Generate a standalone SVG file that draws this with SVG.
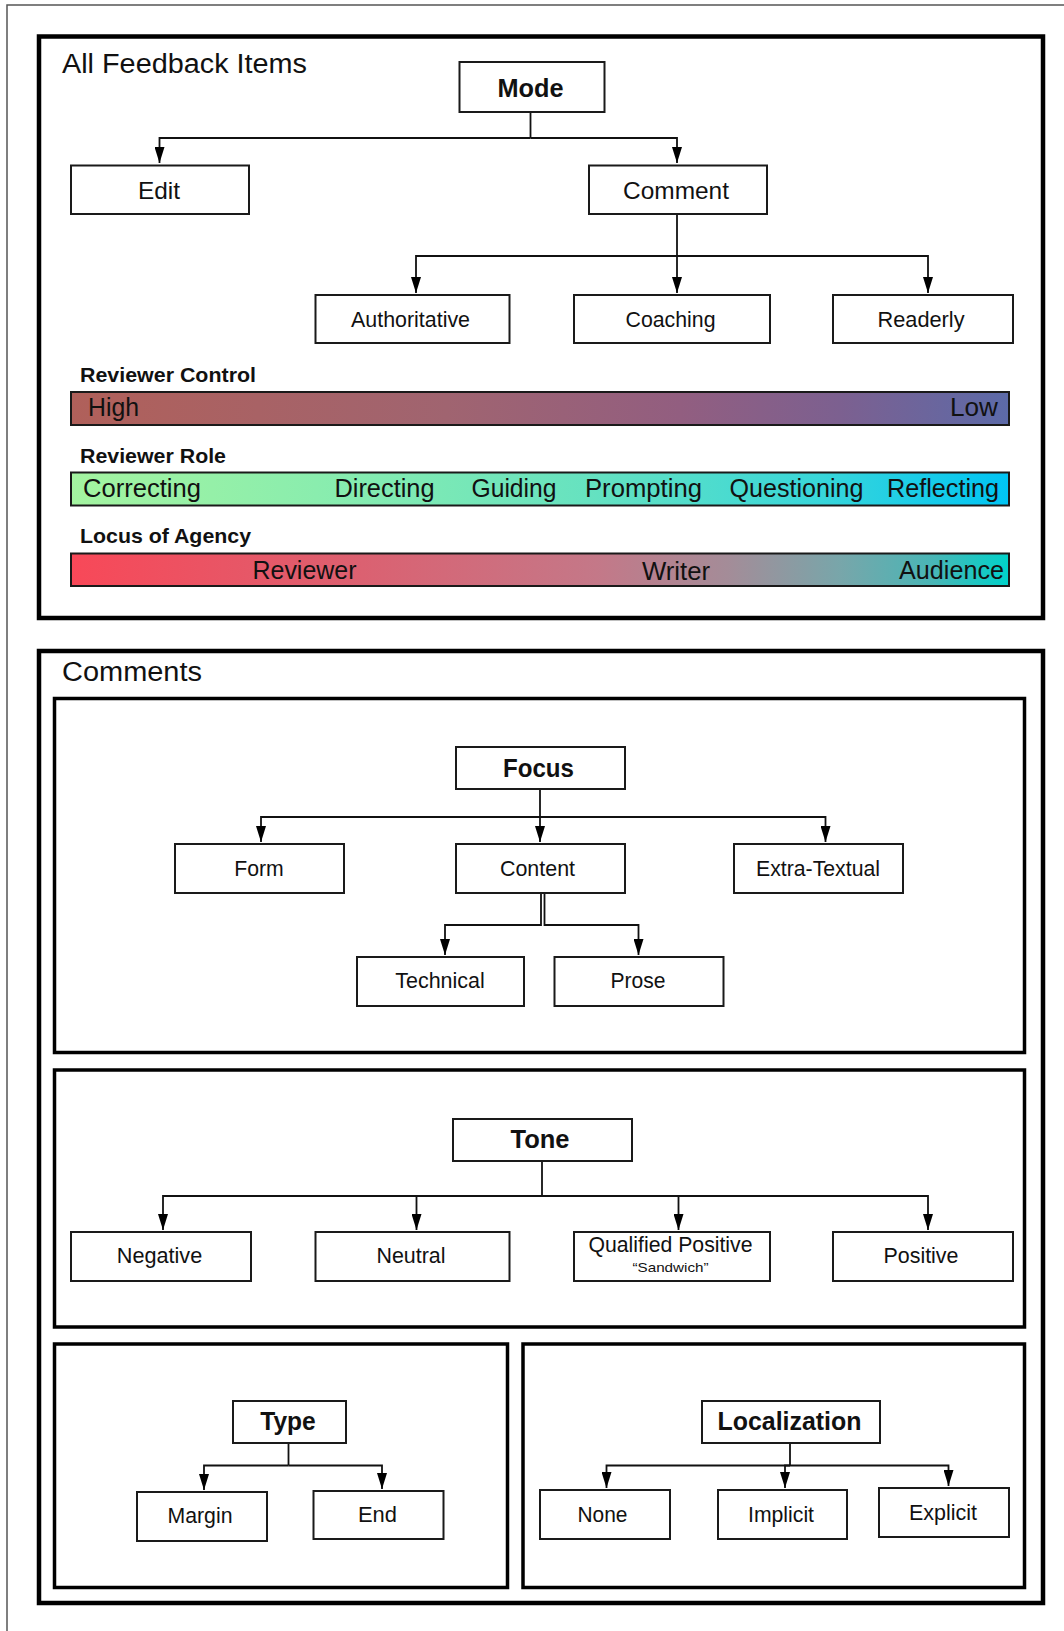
<svg xmlns="http://www.w3.org/2000/svg" width="1064" height="1631" viewBox="0 0 1064 1631">
  <style>
    text { font-family: "Liberation Sans", Arial, Helvetica, sans-serif; fill: #111; }
    .title { font-size: 27px; }
    .root { font-size: 25px; font-weight: bold; text-anchor: middle; }
    .mid { font-size: 24.5px; text-anchor: middle; }
    .leaf { font-size: 22px; text-anchor: middle; }
    .small { font-size: 13px; text-anchor: middle; }
    .hdr { font-size: 21px; font-weight: bold; }
    .bar-label { font-size: 25px; }
    .node rect { fill: #fff; stroke: #1a1a1a; stroke-width: 2; }
    .frame { fill: none; stroke: #000; stroke-width: 4.5; }
    .panel { fill: none; stroke: #000; stroke-width: 3.5; }
    .bar { stroke: #1a1a1a; stroke-width: 2; }
    #connectors path { fill: none; stroke: #111; stroke-width: 1.8; }
    #connectors .arrow { marker-end: url(#arrowhead); }
  </style>
  <defs>
    <marker id="arrowhead" markerWidth="16" markerHeight="10" refX="16" refY="5" orient="auto" markerUnits="userSpaceOnUse">
      <path d="M0,0 L16,5 L0,10 z" fill="#000"/>
    </marker>
    <linearGradient id="gradControl" x1="0" y1="0" x2="1" y2="0">
      <stop offset="0" stop-color="#B0605A"/>
      <stop offset="0.4" stop-color="#A06470"/>
      <stop offset="0.65" stop-color="#925E80"/>
      <stop offset="0.82" stop-color="#7C6090"/>
      <stop offset="1" stop-color="#5C6AA8"/>
    </linearGradient>
    <linearGradient id="gradRole" x1="0" y1="0" x2="1" y2="0">
      <stop offset="0" stop-color="#A4F4A0"/>
      <stop offset="0.3" stop-color="#86ECB0"/>
      <stop offset="0.55" stop-color="#66E2C0"/>
      <stop offset="0.8" stop-color="#38D6DA"/>
      <stop offset="1" stop-color="#00C4F4"/>
    </linearGradient>
    <linearGradient id="gradAgency" x1="0" y1="0" x2="1" y2="0">
      <stop offset="0" stop-color="#F84858"/>
      <stop offset="0.3" stop-color="#DC6070"/>
      <stop offset="0.56" stop-color="#C47888"/>
      <stop offset="0.7" stop-color="#A48C98"/>
      <stop offset="0.82" stop-color="#78A6AA"/>
      <stop offset="0.92" stop-color="#48B6B6"/>
      <stop offset="1" stop-color="#00D2CA"/>
    </linearGradient>
  </defs>

  <rect width="1064" height="1631" fill="#fff"/>
  <!-- page border -->
  <path d="M7,1631 V5 H1064" fill="none" stroke="#555" stroke-width="1.5"/>

  <!-- section: all feedback items -->
  <g id="section-all">
    <rect class="frame" x="39" y="36.5" width="1004" height="581.5"/>
    <text class="title" x="62" y="73" textLength="245" lengthAdjust="spacingAndGlyphs">All Feedback Items</text>
  </g>

  <!-- section: comments -->
  <g id="section-comments">
    <rect class="frame" x="39" y="651" width="1004" height="952"/>
    <text class="title" x="62" y="681" textLength="140" lengthAdjust="spacingAndGlyphs">Comments</text>
  </g>
  <g id="panel-focus"><rect class="panel" x="54.5" y="698.5" width="970" height="354"/></g>
  <g id="panel-tone"><rect class="panel" x="54.5" y="1070" width="970" height="257"/></g>
  <g id="panel-type"><rect class="panel" x="54.5" y="1344" width="453" height="243.5"/></g>
  <g id="panel-localization"><rect class="panel" x="523" y="1344" width="501.5" height="243.5"/></g>

  <!-- scales -->
  <g id="scale-control">
    <text class="hdr" x="80" y="382" textLength="176" lengthAdjust="spacingAndGlyphs">Reviewer Control</text>
    <rect class="bar" x="71" y="392" width="938" height="33" fill="url(#gradControl)"/>
    <text class="bar-label" x="88" y="416" textLength="51" lengthAdjust="spacingAndGlyphs">High</text>
    <text class="bar-label" x="950" y="416" textLength="48" lengthAdjust="spacingAndGlyphs">Low</text>
  </g>
  <g id="scale-role">
    <text class="hdr" x="80" y="463" textLength="146" lengthAdjust="spacingAndGlyphs">Reviewer Role</text>
    <rect class="bar" x="71" y="472.5" width="938" height="33" fill="url(#gradRole)"/>
    <text class="bar-label" x="83" y="497" textLength="118" lengthAdjust="spacingAndGlyphs">Correcting</text>
    <text class="bar-label" x="334.5" y="497" textLength="100" lengthAdjust="spacingAndGlyphs">Directing</text>
    <text class="bar-label" x="471.5" y="497" textLength="85" lengthAdjust="spacingAndGlyphs">Guiding</text>
    <text class="bar-label" x="585" y="497" textLength="117" lengthAdjust="spacingAndGlyphs">Prompting</text>
    <text class="bar-label" x="729.5" y="497" textLength="134" lengthAdjust="spacingAndGlyphs">Questioning</text>
    <text class="bar-label" x="887" y="497" textLength="112" lengthAdjust="spacingAndGlyphs">Reflecting</text>
  </g>
  <g id="scale-agency">
    <text class="hdr" x="80" y="543" textLength="171" lengthAdjust="spacingAndGlyphs">Locus of Agency</text>
    <rect class="bar" x="71" y="553.5" width="938" height="32.5" fill="url(#gradAgency)"/>
    <text class="bar-label" x="252.5" y="579" textLength="104" lengthAdjust="spacingAndGlyphs">Reviewer</text>
    <text class="bar-label" x="642" y="579.5" textLength="68" lengthAdjust="spacingAndGlyphs">Writer</text>
    <text class="bar-label" x="899" y="578.5" textLength="105" lengthAdjust="spacingAndGlyphs">Audience</text>
  </g>

  <!-- connectors -->
  <g id="connectors">
    <path d="M530.5,112 V138"/>
    <path class="arrow" d="M530.5,138 H159.5 V163"/>
    <path class="arrow" d="M530.5,138 H677 V163"/>

    <path d="M677,214 V256"/>
    <path class="arrow" d="M677,256 H416 V293"/>
    <path class="arrow" d="M677,256 V293"/>
    <path class="arrow" d="M677,256 H928 V293"/>

    <path d="M540,789 V817"/>
    <path class="arrow" d="M540,817 H261 V842"/>
    <path class="arrow" d="M540,817 V842"/>
    <path class="arrow" d="M540,817 H825.5 V842"/>

    <path class="arrow" d="M541,893 V925 H445 V955"/>
    <path class="arrow" d="M544.5,893 V925 H638.5 V955"/>

    <path d="M542,1161 V1196"/>
    <path class="arrow" d="M542,1196 H163 V1230"/>
    <path class="arrow" d="M542,1196 H416.5 V1230"/>
    <path class="arrow" d="M542,1196 H678.5 V1230"/>
    <path class="arrow" d="M542,1196 H928 V1230"/>

    <path d="M288.5,1443 V1465.5"/>
    <path class="arrow" d="M288.5,1465.5 H204 V1490"/>
    <path class="arrow" d="M288.5,1465.5 H382 V1489"/>

    <path d="M790,1443 V1465.5"/>
    <path class="arrow" d="M790,1465.5 H606.5 V1488"/>
    <path class="arrow" d="M790,1465.5 H785 V1488"/>
    <path class="arrow" d="M790,1465.5 H948.5 V1486"/>
  </g>

  <!-- mode tree -->
  <g id="node-mode" class="node">
    <rect x="459.5" y="62" width="145" height="50"/>
    <text class="root" x="530.5" y="97" textLength="66" lengthAdjust="spacingAndGlyphs">Mode</text>
  </g>
  <g id="node-edit" class="node">
    <rect x="71" y="165.5" width="178" height="48.5"/>
    <text class="mid" x="159" y="199" textLength="42" lengthAdjust="spacingAndGlyphs">Edit</text>
  </g>
  <g id="node-comment" class="node">
    <rect x="589" y="165.5" width="178" height="48.5"/>
    <text class="mid" x="676" y="199" textLength="106" lengthAdjust="spacingAndGlyphs">Comment</text>
  </g>
  <g id="node-authoritative" class="node">
    <rect x="315.5" y="295" width="194" height="48"/>
    <text class="leaf" x="410.5" y="326.5" textLength="119" lengthAdjust="spacingAndGlyphs">Authoritative</text>
  </g>
  <g id="node-coaching" class="node">
    <rect x="574" y="295" width="196" height="48"/>
    <text class="leaf" x="670.5" y="326.5" textLength="90" lengthAdjust="spacingAndGlyphs">Coaching</text>
  </g>
  <g id="node-readerly" class="node">
    <rect x="833" y="295" width="180" height="48"/>
    <text class="leaf" x="921" y="326.5" textLength="87" lengthAdjust="spacingAndGlyphs">Readerly</text>
  </g>

  <!-- focus tree -->
  <g id="node-focus" class="node">
    <rect x="456" y="747" width="169" height="42"/>
    <text class="root" x="538.5" y="777" textLength="71" lengthAdjust="spacingAndGlyphs">Focus</text>
  </g>
  <g id="node-form" class="node">
    <rect x="175" y="844" width="169" height="49"/>
    <text class="leaf" x="259" y="876" textLength="49.5" lengthAdjust="spacingAndGlyphs">Form</text>
  </g>
  <g id="node-content" class="node">
    <rect x="456" y="844" width="169" height="49"/>
    <text class="leaf" x="537.5" y="876" textLength="75" lengthAdjust="spacingAndGlyphs">Content</text>
  </g>
  <g id="node-extra-textual" class="node">
    <rect x="734" y="844" width="169" height="49"/>
    <text class="leaf" x="818" y="876" textLength="124" lengthAdjust="spacingAndGlyphs">Extra-Textual</text>
  </g>
  <g id="node-technical" class="node">
    <rect x="357" y="957" width="167" height="49"/>
    <text class="leaf" x="440" y="988" textLength="89.5" lengthAdjust="spacingAndGlyphs">Technical</text>
  </g>
  <g id="node-prose" class="node">
    <rect x="554.5" y="957" width="169" height="49"/>
    <text class="leaf" x="638" y="988" textLength="55" lengthAdjust="spacingAndGlyphs">Prose</text>
  </g>

  <!-- tone tree -->
  <g id="node-tone" class="node">
    <rect x="453" y="1119" width="179" height="42"/>
    <text class="root" x="540" y="1148" textLength="59" lengthAdjust="spacingAndGlyphs">Tone</text>
  </g>
  <g id="node-negative" class="node">
    <rect x="71" y="1232" width="180" height="49"/>
    <text class="leaf" x="159.5" y="1263" textLength="85.5" lengthAdjust="spacingAndGlyphs">Negative</text>
  </g>
  <g id="node-neutral" class="node">
    <rect x="315.5" y="1232" width="194" height="49"/>
    <text class="leaf" x="411" y="1263" textLength="69" lengthAdjust="spacingAndGlyphs">Neutral</text>
  </g>
  <g id="node-qualified-positive" class="node">
    <rect x="574" y="1232" width="196" height="49"/>
    <text class="leaf" x="670.5" y="1252" textLength="164" lengthAdjust="spacingAndGlyphs">Qualified Positive</text>
    <text class="small" x="670.5" y="1272" textLength="76" lengthAdjust="spacingAndGlyphs">“Sandwich”</text>
  </g>
  <g id="node-positive" class="node">
    <rect x="833" y="1232" width="180" height="49"/>
    <text class="leaf" x="921" y="1263" textLength="75" lengthAdjust="spacingAndGlyphs">Positive</text>
  </g>

  <!-- type tree -->
  <g id="node-type" class="node">
    <rect x="233" y="1401" width="113" height="42"/>
    <text class="root" x="288" y="1430" textLength="55.5" lengthAdjust="spacingAndGlyphs">Type</text>
  </g>
  <g id="node-margin" class="node">
    <rect x="137" y="1492" width="130" height="49"/>
    <text class="leaf" x="200" y="1523" textLength="65" lengthAdjust="spacingAndGlyphs">Margin</text>
  </g>
  <g id="node-end" class="node">
    <rect x="313.5" y="1491" width="130" height="48"/>
    <text class="leaf" x="377.5" y="1521.5" textLength="39" lengthAdjust="spacingAndGlyphs">End</text>
  </g>

  <!-- localization tree -->
  <g id="node-localization" class="node">
    <rect x="702" y="1401" width="178" height="42"/>
    <text class="root" x="789.5" y="1430" textLength="144" lengthAdjust="spacingAndGlyphs">Localization</text>
  </g>
  <g id="node-none" class="node">
    <rect x="540" y="1490" width="130" height="49"/>
    <text class="leaf" x="602.5" y="1521.5" textLength="50" lengthAdjust="spacingAndGlyphs">None</text>
  </g>
  <g id="node-implicit" class="node">
    <rect x="718" y="1490" width="129" height="49"/>
    <text class="leaf" x="781" y="1521.5" textLength="66" lengthAdjust="spacingAndGlyphs">Implicit</text>
  </g>
  <g id="node-explicit" class="node">
    <rect x="879" y="1488" width="130" height="49"/>
    <text class="leaf" x="943" y="1519.5" textLength="68" lengthAdjust="spacingAndGlyphs">Explicit</text>
  </g>
</svg>
